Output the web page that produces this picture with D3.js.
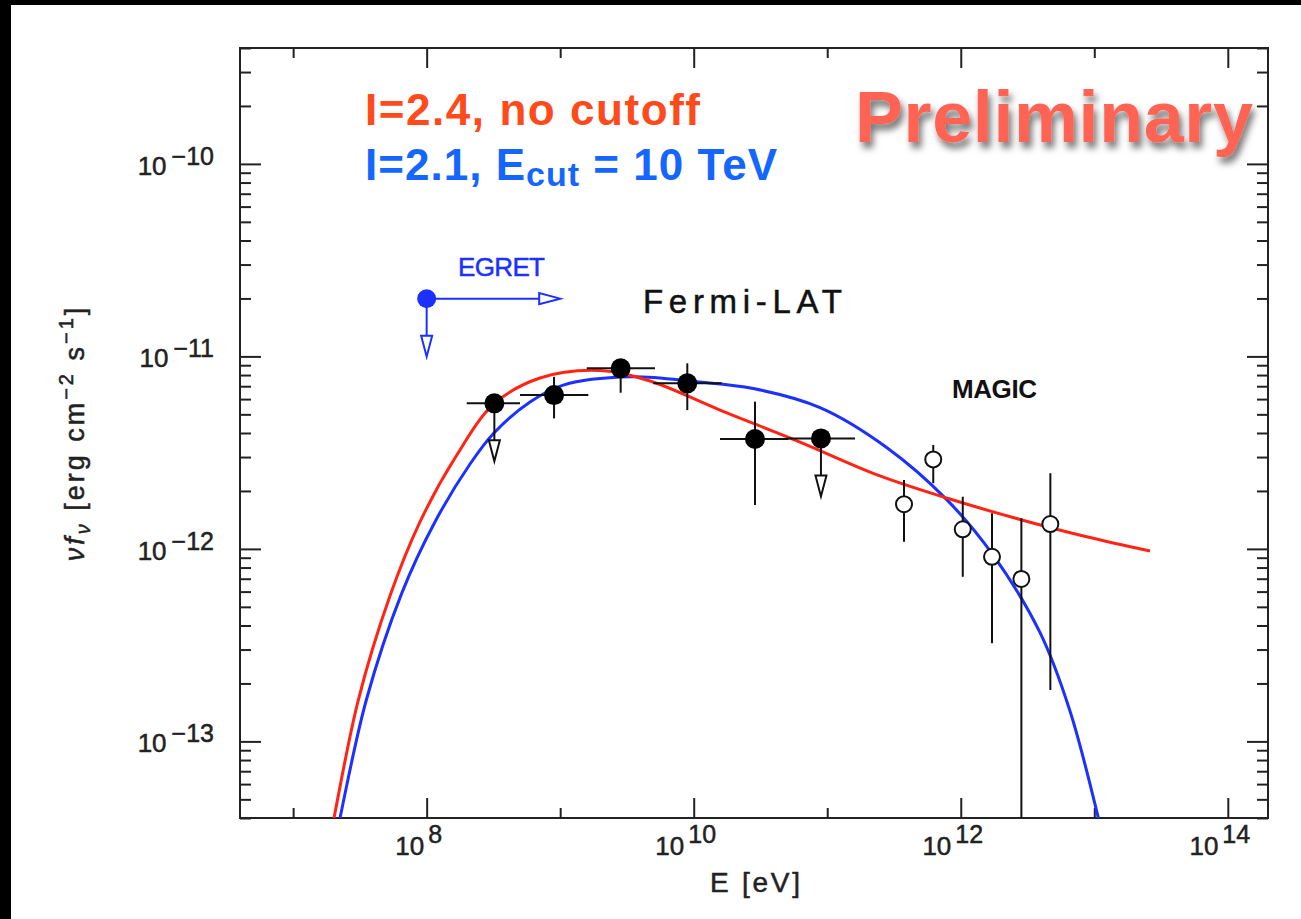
<!DOCTYPE html>
<html>
<head>
<meta charset="utf-8">
<script src="https://cdn.jsdelivr.net/npm/d3@7"></script>
<style>
  body { margin: 0; background: #fff; }
  svg { display: block; }
  text { font-family: "Liberation Sans", Arial, sans-serif; }
  .pg { stroke-width: 0.5px; }
</style>
</head>
<body>
<figure id="sed" style="margin:0"></figure>
<script>
// all values, as log10 of E [eV] and of nu f_nu [erg cm^-2 s^-1]

// model curves
const redLogE = [7.246, 7.306, 7.488, 7.725, 7.950, 8.212, 8.504, 8.849, 9.298, 9.673, 10.197, 10.796,
  11.395, 11.919, 12.444, 12.943, 13.418];
const redLogF = [-13.616, -13.398, -12.785, -12.245, -11.860, -11.528, -11.247, -11.112, -11.073, -11.128, -11.279, -11.445,
  -11.621, -11.741, -11.847, -11.937, -12.011];
const blueLogE = [7.288, 7.351, 7.548, 7.813, 8.062, 8.325, 8.504, 8.774, 9.023, 9.523, 10.022, 10.446,
  10.946, 11.445, 11.895, 12.244, 12.593, 12.818, 13.030, 13.103];
const blueLogF = [-13.616, -13.398, -12.785, -12.231, -11.860, -11.559, -11.398, -11.237, -11.149, -11.106, -11.132, -11.167,
  -11.266, -11.473, -11.744, -12.034, -12.434, -12.842, -13.396, -13.616];

// Fermi-LAT
const fermiLogE = [8.507, 8.954, 9.453, 9.952, 10.459, 10.953];
const fermiLogF = [-11.244, -11.201, -11.062, -11.140, -11.429, -11.426];
const fermiLogELo = [8.300, 8.699, 9.199, 9.697, 10.197, 10.697];
const fermiLogEHi = [8.699, 9.211, 9.710, 10.210, 10.709, 11.208];
const fermiLogFLo = [null, -11.322, -11.189, -11.279, -11.772, null];
const fermiLogFHi = [null, -11.106, -11.033, -11.036, -11.235, null];
const fermiUpperLimit = [true, false, false, false, false, true];

// EGRET upper limit above 100 MeV
const egretLogE = [8.0];
const egretLogF = [-10.70];
const egretLogEArrow = [9.0];

// MAGIC
const magicLogE = [11.575, 11.794, 12.015, 12.234, 12.454, 12.671];
const magicLogF = [-11.768, -11.535, -11.898, -12.041, -12.156, -11.871];
const magicLogFHi = [-11.642, -11.460, -11.729, -11.815, -11.841, -11.607];
const magicLogFLo = [-11.963, -11.659, -12.145, -12.490, -15.0, -12.733];

// axis ticks
const xLabelExp = [8, 10, 12, 14];
const xShortExp = [7, 9, 11, 13];
const yLabelExp = [-13, -12, -11, -10];

const width = 1301, height = 919;
const plot = { left: 240, right: 1268, top: 48, bottom: 818 };
const ink = '#222';
const redColor = '#ff2414', blueColor = '#1c30ff';

const svg = d3.select('#sed').append('svg')
  .attr('width', width)
  .attr('height', height);

// black edges of the screenshot
svg.append('rect').attr('x', 0).attr('y', 0).attr('width', 11).attr('height', height).attr('fill', '#000');
svg.append('rect').attr('x', 0).attr('y', 0).attr('width', width).attr('height', 5).attr('fill', '#000');

const defs = svg.append('defs');
defs.append('clipPath').attr('id', 'plotclip')
  .append('rect')
  .attr('x', plot.left).attr('y', plot.top)
  .attr('width', plot.right - plot.left).attr('height', plot.bottom - plot.top);
const shadow = defs.append('filter').attr('id', 'shadow')
  .attr('x', '-10%').attr('y', '-30%').attr('width', '130%').attr('height', '170%');
shadow.append('feDropShadow')
  .attr('dx', 3).attr('dy', 6).attr('stdDeviation', 3.5)
  .attr('flood-color', '#000').attr('flood-opacity', 0.55);

const x = d3.scaleLog().domain([4e6, 2e14]).range([plot.left, plot.right]);
const y = d3.scaleLog().domain([4e-14, 4e-10]).range([plot.bottom, plot.top]);
const ex = v => x(Math.pow(10, v));
const fy = v => y(Math.pow(10, v));

// ticks on all four sides, pointing inward
function tickAxis(axis, values, size, transform) {
  svg.append('g')
    .attr('transform', transform)
    .call(axis.tickValues(values).tickSize(size).tickFormat(''))
    .call(g => g.select('.domain').remove())
    .selectAll('line')
    .attr('stroke', ink)
    .attr('stroke-width', 2);
}

const xLong = xLabelExp.map(e => Math.pow(10, e));
const xShort = xShortExp.map(e => Math.pow(10, e));
const yMajor = yLabelExp.map(e => Math.pow(10, e));
const yMinor = y.ticks().filter(t => Math.abs(Math.log10(t) - Math.round(Math.log10(t))) > 1e-6);

tickAxis(d3.axisBottom(x), xLong, -20, `translate(0,${plot.bottom})`);
tickAxis(d3.axisBottom(x), xShort, -10, `translate(0,${plot.bottom})`);
tickAxis(d3.axisTop(x), xLong, -20, `translate(0,${plot.top})`);
tickAxis(d3.axisTop(x), xShort, -10, `translate(0,${plot.top})`);
tickAxis(d3.axisLeft(y), yMajor, -21, `translate(${plot.left},0)`);
tickAxis(d3.axisLeft(y), yMinor, -11, `translate(${plot.left},0)`);
tickAxis(d3.axisRight(y), yMajor, -21, `translate(${plot.right},0)`);
tickAxis(d3.axisRight(y), yMinor, -11, `translate(${plot.right},0)`);

svg.append('rect')
  .attr('x', plot.left).attr('y', plot.top)
  .attr('width', plot.right - plot.left).attr('height', plot.bottom - plot.top)
  .attr('fill', 'none').attr('stroke', ink).attr('stroke-width', 2);

// tick labels
svg.selectAll('.xlab').data(xLabelExp).enter().append('text')
  .attr('class', 'xlab pg')
  .attr('x', d => ex(d) - 8)
  .attr('y', 855)
  .attr('text-anchor', 'middle')
  .attr('font-size', 26)
  .attr('fill', ink)
  .attr('stroke', ink)
  .each(function (d) {
    const t = d3.select(this);
    t.append('tspan').text('10');
    t.append('tspan').attr('dx', 4).attr('dy', -12).attr('font-size', 25).text(d);
  });

svg.selectAll('.ylab').data(yLabelExp).enter().append('text')
  .attr('class', 'ylab pg')
  .attr('x', 214)
  .attr('y', d => fy(d) + 11)
  .attr('text-anchor', 'end')
  .attr('font-size', 26)
  .attr('fill', ink)
  .attr('stroke', ink)
  .each(function (d) {
    const t = d3.select(this);
    t.append('tspan').text('10');
    t.append('tspan').attr('dx', 5).attr('dy', -10).attr('font-size', 25).text('\u2212' + Math.abs(d));
  });

// axis titles
svg.append('text')
  .attr('class', 'pg')
  .attr('x', 710).attr('y', 892)
  .attr('font-size', 28)
  .attr('textLength', 90)
  .attr('fill', ink)
  .attr('stroke', ink)
  .text('E [eV]');

const ytitle = svg.append('text')
  .attr('class', 'pg')
  .attr('transform', 'translate(84,433) rotate(-90)')
  .attr('text-anchor', 'middle')
  .attr('font-size', 27)
  .attr('letter-spacing', 3)
  .attr('fill', ink)
  .attr('stroke', ink);
ytitle.append('tspan').attr('font-style', 'italic').text('\u03bdf');
ytitle.append('tspan').attr('font-style', 'italic').attr('font-size', 20).attr('dy', 6).text('\u03bd');
ytitle.append('tspan').attr('dy', -6).text(' [erg cm');
ytitle.append('tspan').attr('font-size', 20).attr('dy', -11).text('\u22122');
ytitle.append('tspan').attr('dy', 11).text(' s');
ytitle.append('tspan').attr('font-size', 20).attr('dy', -11).text('\u22121');
ytitle.append('tspan').attr('dy', 11).text(']');

// model curves
const line = d3.line()
  .x(d => ex(d[0]))
  .y(d => fy(d[1]))
  .curve(d3.curveCatmullRom.alpha(0.5));

const curves = svg.append('g').attr('clip-path', 'url(#plotclip)');
curves.append('path')
  .datum(d3.zip(blueLogE, blueLogF))
  .attr('d', line)
  .attr('fill', 'none')
  .attr('stroke', blueColor)
  .attr('stroke-width', 3);
curves.append('path')
  .datum(d3.zip(redLogE, redLogF))
  .attr('d', line)
  .attr('fill', 'none')
  .attr('stroke', redColor)
  .attr('stroke-width', 3);

// upper limit arrows: stem plus open triangle head
const arrowLen = 58, headLen = 21, headHalf = 5.5;
function downArrow(g, cx, cy, color) {
  g.append('line')
    .attr('x1', cx).attr('y1', cy).attr('x2', cx).attr('y2', cy + arrowLen - headLen)
    .attr('stroke', color).attr('stroke-width', 2);
  g.append('path')
    .attr('d', `M${cx - headHalf},${cy + arrowLen - headLen}L${cx + headHalf},${cy + arrowLen - headLen}L${cx},${cy + arrowLen}Z`)
    .attr('fill', '#fff').attr('stroke', color).attr('stroke-width', 2);
}

// EGRET
const egret = svg.append('g');
egretLogE.forEach((e, i) => {
  const cx = ex(e), cy = fy(egretLogF[i]), tip = ex(egretLogEArrow[i]);
  egret.append('line')
    .attr('x1', cx).attr('y1', cy).attr('x2', tip - headLen).attr('y2', cy)
    .attr('stroke', blueColor).attr('stroke-width', 2);
  egret.append('path')
    .attr('d', `M${tip - headLen},${cy - headHalf}L${tip - headLen},${cy + headHalf}L${tip},${cy}Z`)
    .attr('fill', '#fff').attr('stroke', blueColor).attr('stroke-width', 2);
  downArrow(egret, cx, cy, blueColor);
  egret.append('circle').attr('cx', cx).attr('cy', cy).attr('r', 9.5).attr('fill', blueColor);
});

// Fermi-LAT
const fermi = svg.append('g');
fermiLogE.forEach((e, i) => {
  const cx = ex(e), cy = fy(fermiLogF[i]);
  fermi.append('line')
    .attr('x1', ex(fermiLogELo[i])).attr('x2', ex(fermiLogEHi[i]))
    .attr('y1', cy).attr('y2', cy)
    .attr('stroke', '#111').attr('stroke-width', 2);
  if (fermiUpperLimit[i]) {
    downArrow(fermi, cx, cy, '#111');
  } else {
    fermi.append('line')
      .attr('x1', cx).attr('x2', cx)
      .attr('y1', fy(fermiLogFHi[i])).attr('y2', fy(fermiLogFLo[i]))
      .attr('stroke', '#111').attr('stroke-width', 2);
  }
  fermi.append('circle').attr('cx', cx).attr('cy', cy).attr('r', 10).attr('fill', '#000');
});

// MAGIC
const magic = svg.append('g').attr('clip-path', 'url(#plotclip)');
magicLogE.forEach((e, i) => {
  const cx = ex(e);
  magic.append('line')
    .attr('x1', cx).attr('x2', cx)
    .attr('y1', fy(magicLogFHi[i])).attr('y2', fy(magicLogFLo[i]))
    .attr('stroke', '#111').attr('stroke-width', 2);
  magic.append('circle')
    .attr('cx', cx).attr('cy', fy(magicLogF[i])).attr('r', 8)
    .attr('fill', '#fff').attr('stroke', '#111').attr('stroke-width', 2);
});

// in-plot labels
svg.append('text')
  .attr('class', 'pg')
  .attr('x', 458).attr('y', 276)
  .attr('font-size', 26)
  .attr('textLength', 87)
  .attr('fill', blueColor)
  .attr('stroke', blueColor)
  .text('EGRET');
svg.append('text')
  .attr('class', 'pg')
  .attr('x', 643).attr('y', 313)
  .attr('font-size', 33)
  .attr('textLength', 199)
  .attr('fill', '#111')
  .attr('stroke', '#111')
  .text('Fermi-LAT');
svg.append('text')
  .attr('x', 952).attr('y', 398)
  .attr('font-size', 26)
  .attr('font-weight', 'bold')
  .attr('textLength', 85)
  .attr('fill', '#111')
  .text('MAGIC');

// legend
svg.append('text')
  .attr('x', 365).attr('y', 125)
  .attr('font-size', 44)
  .attr('font-weight', 'bold')
  .attr('textLength', 335)
  .attr('fill', '#ff4a1c')
  .text('I=2.4, no cutoff');
const leg2 = svg.append('text')
  .attr('x', 365).attr('y', 180)
  .attr('font-size', 44)
  .attr('font-weight', 'bold')
  .attr('textLength', 412)
  .attr('fill', '#1466ff');
leg2.append('tspan').text('I=2.1, E');
leg2.append('tspan').attr('font-size', 34).attr('dy', 6).text('cut');
leg2.append('tspan').attr('dy', -6).text(' = 10 TeV');

svg.append('text')
  .attr('x', 855).attr('y', 142)
  .attr('font-size', 72)
  .attr('font-weight', 'bold')
  .attr('textLength', 398)
  .attr('fill', '#ff6452')
  .attr('filter', 'url(#shadow)')
  .text('Preliminary');
</script>
</body>
</html>
